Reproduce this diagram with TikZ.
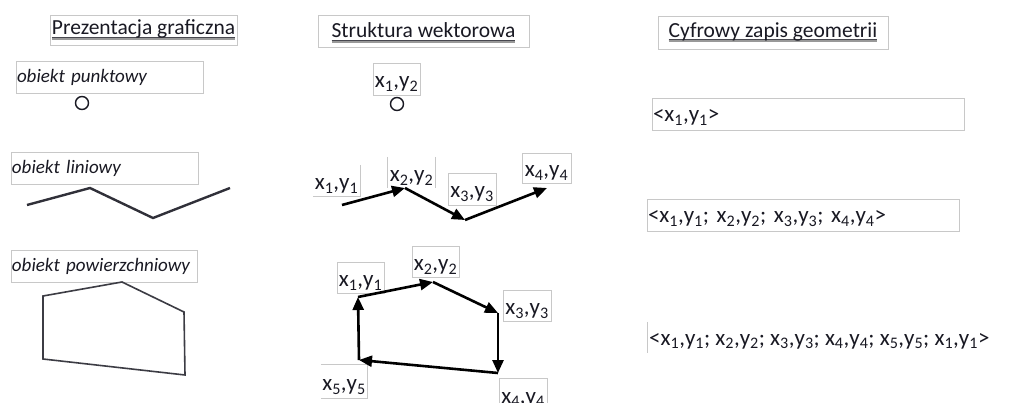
\documentclass[tikz,border=0pt]{standalone}
\usepackage{fontspec}
\setmainfont{Carlito}
\usetikzlibrary{arrows.meta}
\definecolor{boxgray}{RGB}{200,200,200}
\definecolor{ink}{RGB}{25,25,35}
\newcommand{\pxy}[2]{x\textsubscript{#1},y\textsubscript{#2}}
\newcommand{\shul}[1]{\setbox0\hbox{#1}\rlap{\color{gray!80}\rule[-4.6pt]{\wd0}{2.2pt}}\rlap{\color{ink!80}\rule[-2.6pt]{\wd0}{0.9pt}}\box0}
\begin{document}
\begin{tikzpicture}[x=1pt,y=-1pt,
  boxline/.style={draw=boxgray, line width=0.8pt},
  gbox/.style={draw=boxgray, line width=0.8pt, inner sep=0pt},
  ttl/.style={gbox, font=\fontsize{21.5}{25}\selectfont, text=ink, text depth=0pt},
  ital/.style={gbox, font=\fontsize{19}{23}\selectfont\itshape, align=left, text=ink, inner xsep=1pt, text height=11pt, text depth=0pt},
  lab/.style={inner sep=0pt, font=\fontsize{23}{27}\selectfont, text=ink, text height=18pt, text depth=0pt},
  labbox/.style={lab, draw=boxgray, line width=0.8pt},
  rtxt/.style={lab, align=left, inner xsep=1pt, text height=15pt, text depth=0pt},
  polyl/.style={draw=ink!90, line width=2.4pt, line join=miter},
  polyg/.style={draw=ink!85, line width=1.6pt, line join=miter},
  vec/.style={draw=black, line width=2.6pt, -{Triangle[length=13pt,width=11pt]}},
  ptmark/.style={circle, draw=ink, line width=1.4pt, minimum size=13pt, inner sep=0pt}
]
\useasboundingbox (0,0) rectangle (1014,403);
\clip (0,0) rectangle (1014,403);
\fill[white] (0,0) rectangle (1014,403);

% titles
\node[ttl, minimum width=187, minimum height=30, text height=10pt] (t1) at (143.5,30) {\shul{Prezentacja graficzna}};
\node[ttl, minimum width=211, minimum height=32, text height=14pt] (t2) at (423.5,31) {\shul{Struktura wektorowa}};
\node[ttl, minimum width=230, minimum height=33, text height=10pt] (t3) at (773,32.5) {\shul{Cyfrowy zapis geometrii}};

% left column
\node[ital, minimum height=32, text width=185] (p1) at (109.5,77) {obiekt punktowy};
\node[ptmark] (c1) at (82,103) {};

\node[ital, minimum height=32, text width=185] (l1) at (104.5,168.5) {obiekt liniowy};
\coordinate (la) at (27,205);
\coordinate (lb) at (90,188);
\coordinate (lc) at (153,218);
\coordinate (ld) at (230,188);
\draw[polyl] (la) -- (lb) -- (lc) -- (ld);

\node[ital, minimum height=32, text width=184] (s1) at (104,266) {obiekt powierzchniowy};
\coordinate (sa) at (43,296);
\coordinate (sb) at (122,282);
\coordinate (sc) at (184,312);
\coordinate (sd) at (185,375);
\coordinate (se) at (43,359);
\draw[polyg] (sa) -- (sb) -- (sc) -- (sd) -- (se) -- cycle;

% middle column: point
\node[labbox, minimum width=47, minimum height=32] (m0) at (396.5,79) {\pxy{1}{2}};
\node[ptmark] (c2) at (397,104) {};

% middle column: line
\node[lab, minimum width=47, minimum height=31] (a1) at (336.5,180.5) {\pxy{1}{1}};
\draw[boxline] (a1.north east) -- (a1.south east) -- (a1.south west);
\node[lab, minimum width=47, minimum height=31] (a2) at (411.5,172.5) {\pxy{2}{2}};
\draw[boxline] (a2.north west) -- (a2.south west);
\draw[boxline] (a2.north east) -- (a2.south east);
\node[labbox, minimum width=48, minimum height=32] (a3) at (472,189) {\pxy{3}{3}};
\node[labbox, minimum width=49, minimum height=30] (a4) at (546.5,168) {\pxy{4}{4}};

\coordinate (v1) at (342,205);
\coordinate (v2) at (405,188);
\coordinate (v3) at (465,220);
\coordinate (v4) at (547,188);
\draw[vec] (v1) -- (v2);
\draw[vec] (v2) -- (v3);
\draw[vec] (v3) -- (v4);

% middle column: polygon
\node[labbox, minimum width=47, minimum height=31] (b1) at (360.5,277.5) {\pxy{1}{1}};
\node[labbox, minimum width=47, minimum height=31] (b2) at (435.5,261.5) {\pxy{2}{2}};
\node[labbox, minimum width=48, minimum height=31] (b3) at (527,305.5) {\pxy{3}{3}};
\node[lab, minimum width=46, minimum height=33] (b5) at (344,381.5) {\pxy{5}{5}};
\draw[boxline] (b5.north west) -- (b5.north east) -- (b5.south east) -- (b5.south west);
\node[labbox, minimum width=48, minimum height=32] (b4) at (523,394) {\pxy{4}{4}};

\coordinate (q1) at (358,297);
\coordinate (q2) at (433,282);
\coordinate (q3) at (498,313);
\coordinate (q4) at (498,373);
\coordinate (q5) at (359,360);
\draw[vec] (q1) -- (q2);
\draw[vec] (q2) -- (q3);
\draw[vec] (q3) -- (q4);
\draw[vec] (q4) -- (q5);
\draw[vec] (q5) -- (q1);

% right column
\node[rtxt, draw=boxgray, line width=0.8pt, minimum height=32, text width=310] (r1) at (808,114) {<\pxy{1}{1}>};
\node[rtxt, draw=boxgray, line width=0.8pt, minimum height=32, text width=310] (r2) at (803,215) {<\pxy{1}{1}; \pxy{2}{2}; \pxy{3}{3}; \pxy{4}{4}>};
\node[rtxt, anchor=west, minimum height=31] (r3) at (648,337.5) {<\pxy{1}{1}; \pxy{2}{2}; \pxy{3}{3}; \pxy{4}{4}; \pxy{5}{5}; \pxy{1}{1}>};
\draw[boxline] ([xshift=-1pt]r3.north west) -- ([xshift=-1pt]r3.south west);
\end{tikzpicture}
\end{document}
